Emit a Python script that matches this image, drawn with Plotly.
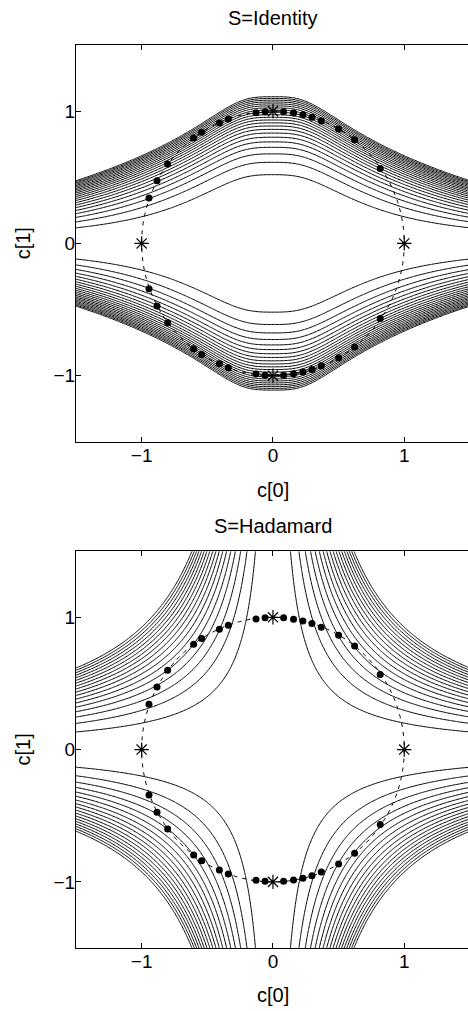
import numpy as np
import plotly.graph_objects as go

# ---- data ----
# contour levels (start, end, step) of the two cost surfaces
id_levels = dict(start=0.073, end=1.52, size=0.0685)
had_levels = dict(start=0.04, end=0.87, size=0.048)

# iterates (dots) on the unit circle, upper half; lower half is mirrored
dot_c0 = [-0.944, -0.883, -0.802, -0.604, -0.543, -0.408, -0.340, -0.129, -0.060,
          0.081, 0.157, 0.228, 0.297, 0.368, 0.500, 0.622, 0.817]
dot_c1 = [0.343, 0.474, 0.600, 0.797, 0.840, 0.910, 0.940, 0.988, 0.996,
          0.996, 0.986, 0.973, 0.953, 0.925, 0.865, 0.784, 0.567]

# sparse solutions (asterisks)
sol_c0 = [-1, 1, 0, 0]
sol_c1 = [0, 0, 1, -1]

tick_vals = [-1, 0, 1]
tick_text = ["\u22121", "0", "1"]
titles = ["S=Identity", "S=Hadamard"]

# ---- surfaces ----
grid = np.linspace(-1.5, 1.5, 301)
X, Y = np.meshgrid(grid, grid)
AX = np.abs(X)
a_x = X**2 * (0.3 + 1.33 * AX)
b_x = 4.2 * X**4 / (0.1 + X**2 + 0.25 * X**4)
F_id = Y**4 * (1 + b_x) + a_x * Y**2
F_had = (X * Y) ** 2

fig = go.Figure()
FONT = "Liberation Sans, Arial, Helvetica, sans-serif"

all_c0 = dot_c0 + dot_c0
all_c1 = dot_c1 + [-v for v in dot_c1]

for i, (F, lev) in enumerate([(F_id, id_levels), (F_had, had_levels)]):
    xa = "x" if i == 0 else "x2"
    ya = "y" if i == 0 else "y2"
    fig.add_trace(go.Contour(
        x=grid, y=grid, z=F, xaxis=xa, yaxis=ya,
        contours=dict(coloring="none", **lev),
        line=dict(color="black", width=1, smoothing=1),
        showscale=False, hoverinfo="skip"))
    fig.add_trace(go.Scatter(
        x=all_c0, y=all_c1, xaxis=xa, yaxis=ya, mode="markers",
        marker=dict(color="black", size=7), hoverinfo="skip"))
    fig.add_trace(go.Scatter(
        x=sol_c0, y=sol_c1, xaxis=xa, yaxis=ya, mode="markers",
        marker=dict(symbol="asterisk-open", color="black", size=12,
                    line=dict(color="black", width=1.2)), hoverinfo="skip"))
    fig.add_shape(type="circle", xref=xa, yref=ya, x0=-1, y0=-1, x1=1, y1=1,
                  line=dict(color="black", width=1, dash="4px,5px"), layer="above")

W, H = 468, 1011
L_M, T_M, B_M = 76, 45, 63.3
plot_h = H - T_M - B_M
xr = [-1.5, -1.5 + (W - L_M) / 131.3]

def xaxis(anchor):
    return dict(range=xr, anchor=anchor, domain=[0, 1], showline=True, linecolor="black",
                linewidth=1, mirror="ticks", ticks="inside", ticklen=5, tickcolor="black",
                tickvals=tick_vals, ticktext=tick_text, showgrid=False, zeroline=False,
                ticklabelstandoff=-4,
                tickfont=dict(size=19, color="black", family=FONT))

def yaxis(anchor, dom):
    return dict(range=[-1.5, 1.5], anchor=anchor, domain=dom, showline=True, linecolor="black",
                linewidth=1, mirror=False, ticks="inside", ticklen=5, tickcolor="black",
                tickvals=tick_vals, ticktext=tick_text, showgrid=False, zeroline=False,
                ticklabelstandoff=-4,
                tickfont=dict(size=19, color="black", family=FONT))

top_dom = [(H - B_M - 441.7) / plot_h, 1.0]
bot_dom = [0.0, (H - B_M - 551) / plot_h]

fig.update_layout(
    width=W, height=H, margin=dict(l=L_M, r=0, t=T_M, b=B_M),
    paper_bgcolor="white", plot_bgcolor="white", showlegend=False,
    xaxis=xaxis("y"), yaxis=yaxis("x", top_dom),
    xaxis2=xaxis("y2"), yaxis2=yaxis("x2", bot_dom),
    yaxis3=dict(range=[-1.5, 1.5], overlaying="y", side="right", anchor="x",
                showline=False, ticks="inside", ticklen=5, tickcolor="black",
                tickvals=tick_vals, showticklabels=False, showgrid=False, zeroline=False),
    yaxis4=dict(range=[-1.5, 1.5], overlaying="y2", side="right", anchor="x2",
                showline=False, ticks="inside", ticklen=5, tickcolor="black",
                tickvals=tick_vals, showticklabels=False, showgrid=False, zeroline=False),
)

def py(pix):
    return (H - B_M - pix) / plot_h

ann = []
for i, (tpix, xlpix, cpix) in enumerate([(18, 490, 243.3), (526, 995, 749.3)]):
    ann.append(dict(text=titles[i], x=0, xref="x" if i == 0 else "x2", y=py(tpix), yref="paper",
                    showarrow=False, xanchor="center", yanchor="middle",
                    font=dict(size=20, color="black", family=FONT)))
    ann.append(dict(text="c[0]", x=0, xref="x" if i == 0 else "x2", y=py(xlpix), yref="paper",
                    showarrow=False, xanchor="center", yanchor="middle",
                    font=dict(size=20, color="black", family=FONT)))
    ann.append(dict(text="c[1]", x=(23 - L_M) / (W - L_M), xref="paper", y=py(cpix), yref="paper",
                    showarrow=False, xanchor="center", yanchor="middle", textangle=-90,
                    font=dict(size=20, color="black", family=FONT)))
fig.update_layout(annotations=ann)

fig.write_html("out.html", config={"displayModeBar": False, "staticPlot": True},
               post_script="document.body.style.margin='0';")
